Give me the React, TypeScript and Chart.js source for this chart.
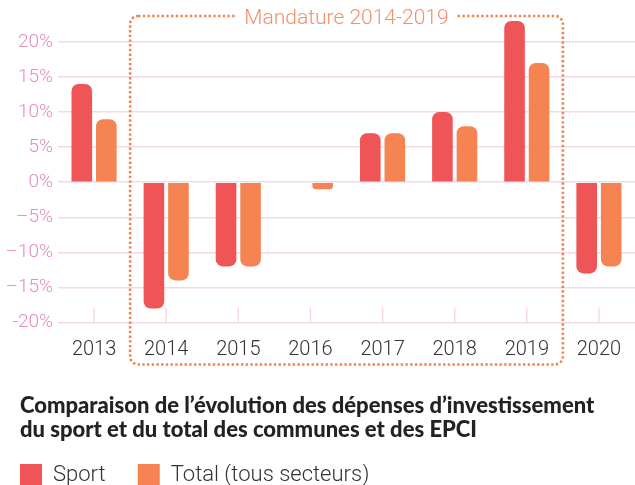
import React, { useEffect, useRef } from "react";
import { Chart, registerables } from "chart.js";

Chart.register(...registerables);

const years = ["2013", "2014", "2015", "2016", "2017", "2018", "2019", "2020"];
const sportValues = [14, -18, -12, 0, 7, 10, 23, -13];
const totalValues = [9, -14, -12, -1, 7, 8, 17, -12];
const yTickValues = [-20, -15, -10, -5, 0, 5, 10, 15, 20];
const yTickLabels = ["-20%", "–15%", "–10%", "–5%", "0%", "5%", "10%", "15%", "20%"];
const seriesNames = ["Sport", "Total (tous secteurs)"];
const titleLines = [
  "Comparaison de l’évolution des dépenses d’investissement",
  "du sport et du total des communes et des EPCI",
];
const mandatureLabel = "Mandature 2014-2019";
const mandatureFirst = 1;
const mandatureLast = 6;

const SPORT = "#ef5457";
const TOTAL = "#f58452";
const GRID = "#f3d9e8";
const TEXT_INDENT = 20;

const mandaturePlugin = {
  id: "mandature",
  afterDraw(chart: any) {
    const { ctx, chartArea, scales } = chart;
    const x = scales.x;
    const half = (x.getPixelForValue(1) - x.getPixelForValue(0)) / 2;
    const left = x.getPixelForValue(mandatureFirst) - half;
    const right = x.getPixelForValue(mandatureLast) + half;
    const top = chartArea.top - 26;
    const bottom = chartArea.bottom + 42;
    const r = 8;
    ctx.save();
    ctx.strokeStyle = "#f4834f";
    ctx.lineWidth = 2.6;
    ctx.setLineDash([2.4, 2.3]);
    ctx.beginPath();
    ctx.moveTo(left + r, top);
    ctx.lineTo(right - r, top);
    ctx.arcTo(right, top, right, top + r, r);
    ctx.lineTo(right, bottom - r);
    ctx.arcTo(right, bottom, right - r, bottom, r);
    ctx.lineTo(left + r, bottom);
    ctx.arcTo(left, bottom, left, bottom - r, r);
    ctx.lineTo(left, top + r);
    ctx.arcTo(left, top, left + r, top, r);
    ctx.closePath();
    ctx.stroke();
    ctx.setLineDash([]);
    ctx.font = "300 21px Roboto, 'Open Sans', sans-serif";
    const w = ctx.measureText(mandatureLabel).width;
    const cx = (left + right) / 2;
    ctx.fillStyle = "#ffffff";
    ctx.fillRect(cx - w / 2 - 8, top - 12, w + 16, 24);
    ctx.fillStyle = "#f4906a";
    ctx.textAlign = "center";
    ctx.textBaseline = "middle";
    ctx.fillText(mandatureLabel, cx, top + 3);
    ctx.restore();
  },
};

const tickMarksPlugin = {
  id: "tickMarks",
  beforeDatasetsDraw(chart: any) {
    const { ctx, chartArea, scales } = chart;
    const x = scales.x;
    ctx.save();
    ctx.strokeStyle = GRID;
    ctx.lineWidth = 1.5;
    x.ticks.forEach((_t: any, i: number) => {
      const px = x.getPixelForTick(i);
      ctx.beginPath();
      ctx.moveTo(px, chartArea.bottom);
      ctx.lineTo(px, chartArea.bottom - 15);
      ctx.stroke();
    });
    ctx.restore();
  },
};

const indentPlugin = {
  id: "indent",
  afterLayout(chart: any) {
    if (chart.titleBlock) {
      chart.titleBlock.left = TEXT_INDENT;
      chart.titleBlock.right = TEXT_INDENT + 610;
    }
    if (chart.legend) chart.legend.left = TEXT_INDENT;
  },
};

export default function App() {
  const ref = useRef<HTMLCanvasElement | null>(null);
  useEffect(() => {
    document.body.style.margin = "0";
    document.body.style.overflow = "hidden";
    document.documentElement.style.overflow = "hidden";
    const canvas = ref.current;
    if (!canvas) return;
    const chart = new Chart(canvas, {
      type: "bar",
      data: {
        labels: years,
        datasets: [
          {
            label: seriesNames[0] + "      ",
            data: sportValues,
            backgroundColor: SPORT,
            borderWidth: 0,
            borderRadius: 7,
            borderSkipped: "start",
            categoryPercentage: 0.68,
            barPercentage: 0.84,
            clip: false,
          },
          {
            label: seriesNames[1],
            data: totalValues,
            backgroundColor: TOTAL,
            borderWidth: 0,
            borderRadius: 7,
            borderSkipped: "start",
            categoryPercentage: 0.68,
            barPercentage: 0.84,
            clip: false,
          },
        ],
      },
      options: {
        animation: false,
        responsive: false,
        maintainAspectRatio: false,
        layout: { padding: { left: 0, right: -2, top: 42, bottom: 0 } },
        plugins: {
          tooltip: { enabled: false },
          title: {
            display: true,
            position: "bottom",
            align: "start",
            text: titleLines,
            color: "#222222",
            font: { family: "Lato, sans-serif", size: 22, weight: "900", lineHeight: 1.08 },
            padding: { top: 10, bottom: 22 },
            weight: 1000,
          },
          legend: {
            display: true,
            position: "bottom",
            align: "start",
            weight: 3000,
            labels: {
              boxWidth: 22,
              boxHeight: 22,
              padding: 0,
              color: "#333333",
              font: { family: "Roboto, sans-serif", size: 22, weight: "300" },
            },
          },
        },
        scales: {
          x: {
            grid: { display: false },
            border: { display: false },
            ticks: {
              color: "#333333",
              padding: 8,
              font: { family: "Roboto, sans-serif", size: 20, weight: "300" },
            },
            afterFit(scale: any) {
              scale.height = 62;
            },
          },
          y: {
            min: -20,
            max: 20,
            afterBuildTicks(scale: any) {
              scale.ticks = yTickValues.map((v) => ({ value: v }));
            },
            grid: { color: GRID, lineWidth: 1.5, drawTicks: false },
            border: { display: false },
            ticks: {
              color: "#e38cc2",
              padding: 5,
              font: { family: "Roboto, sans-serif", size: 19, weight: "300" },
              callback: (v: any) => {
                const i = yTickValues.indexOf(Number(v));
                return i >= 0 ? yTickLabels[i] : "";
              },
            },
            afterFit(scale: any) {
              scale.width = 58;
            },
          },
        },
      },
      plugins: [tickMarksPlugin, mandaturePlugin, indentPlugin],
    } as any);
    return () => chart.destroy();
  }, []);
  return (
    <div style={{ width: 635, height: 496 }}>
      <canvas ref={ref} width={635} height={496} style={{ display: "block" }} />
    </div>
  );
}
